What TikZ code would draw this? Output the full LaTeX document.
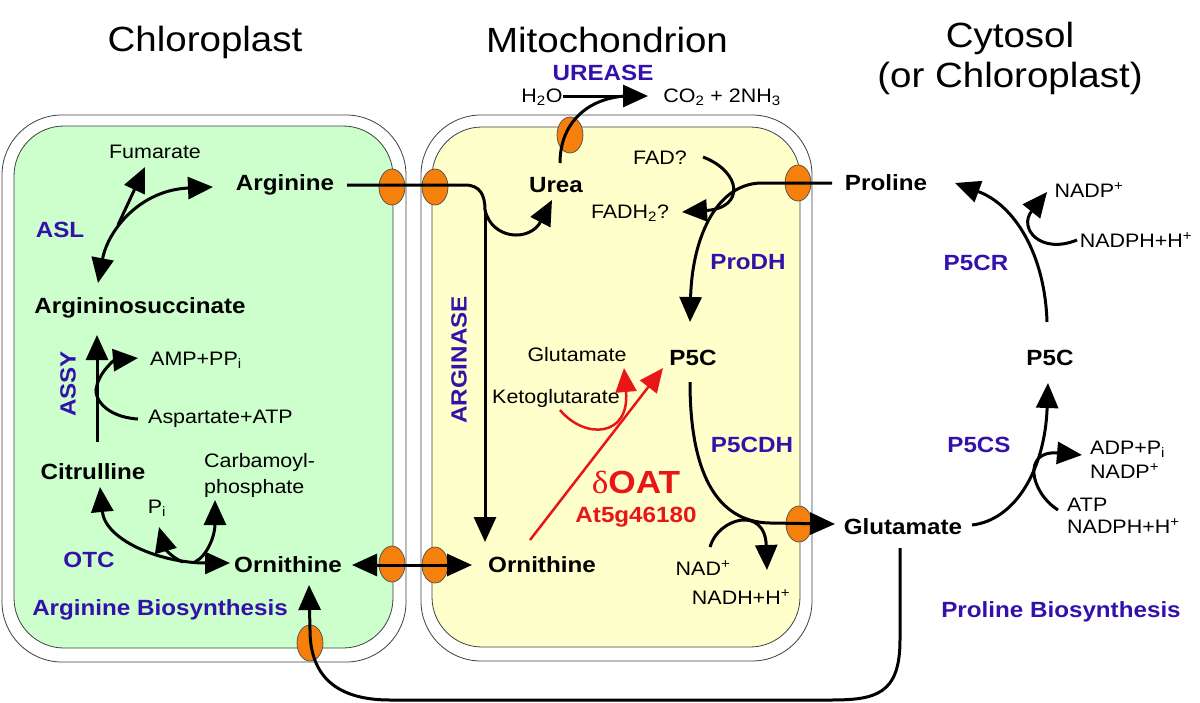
\documentclass[tikz,border=0pt]{standalone}
\usepackage{fontspec}
\setmainfont{Liberation Sans}[FakeStretch=1.1]
\newfontfamily\grk{Liberation Serif}[FakeStretch=1.1]
\usetikzlibrary{arrows.meta,shapes.geometric}
\definecolor{enz}{RGB}{51,17,170}
\definecolor{oatred}{RGB}{232,22,22}
\definecolor{chlgreen}{RGB}{204,255,204}
\definecolor{mityellow}{RGB}{255,255,204}
\definecolor{tport}{RGB}{245,128,12}
\tikzset{
  title/.style={font=\fontsize{35}{40}\selectfont, inner sep=0pt},
  met/.style={font=\fontsize{22}{24}\selectfont\bfseries, inner sep=0pt},
  sm/.style={font=\fontsize{19.5}{22}\selectfont, inner sep=0pt},
  enzyme/.style={font=\fontsize{22}{24}\selectfont\bfseries, text=enz, inner sep=0pt},
  wall/.style={draw=black!75, line width=0.8pt},
  porter/.style={ellipse, draw=black!70, line width=0.7pt, fill=tport, minimum width=26pt, minimum height=36pt, inner sep=0pt},
  ln/.style={line width=3pt},
  rx/.style={line width=3pt, -{Triangle[length=25pt,width=22pt]}},
  rxx/.style={line width=3pt, {Triangle[length=25pt,width=22pt]}-{Triangle[length=25pt,width=22pt]}},
  redrx/.style={line width=2.5pt, draw=oatred, -{Triangle[length=24pt,width=21pt]}},
}
\begin{document}
\begin{tikzpicture}[x=1pt,y=-1pt]
\useasboundingbox (0,0) rectangle (1200,702);
% compartments
\draw[wall, fill=white, rounded corners=60pt] (2,115) rectangle (406,662);
\draw[wall, fill=chlgreen, rounded corners=50pt] (14,126) rectangle (393,648);
\draw[wall, fill=white, rounded corners=60pt] (421,115) rectangle (812,661);
\draw[wall, fill=mityellow, rounded corners=50pt] (432,127) rectangle (800,647);
% titles
\node[title] (tchl) at (205,42) {Chloroplast};
\node[title] (tmit) at (607,40) {Mitochondrion};
\node[title, align=center] (tcyt) at (1010,58) {Cytosol\\(or Chloroplast)};
% transporters
\node[porter] (p1) at (392,187) {};
\node[porter] (p2) at (435,187) {};
\node[porter] (p3) at (570,135) {};
\node[porter] (p4) at (798,183) {};
\node[porter] (p5) at (799,524) {};
\node[porter] (p6) at (392,564) {};
\node[porter] (p7) at (435,565) {};
\node[porter] (p8) at (310,643) {};
% chloroplast texts
\node[sm] (fum) at (155,152) {Fumarate};
\node[met] (arg) at (285,185) {Arginine};
\node[enzyme] (asl) at (60,230) {ASL};
\node[met] (argsuc) at (140,308) {Argininosuccinate};
\node[sm, anchor=west] (amp) at (150,360) {AMP+PP\textsubscript{i}};
\node[sm, anchor=west] (asp) at (148,419) {Aspartate+ATP};
\node[enzyme, rotate=90] (assy) at (68,384) {ASSY};
\node[met] (cit) at (93,472) {Citrulline};
\node[sm, anchor=west, align=left, font=\fontsize{19.5}{26}\selectfont] (carb) at (204,475) {Carbamoyl-\\phosphate};
\node[sm] (pi) at (157,508) {P\textsubscript{i}};
\node[enzyme] (otc) at (89,560) {OTC};
\node[met] (ornc) at (288,565) {Ornithine};
\node[enzyme] (argbio) at (160,610) {Arginine Biosynthesis};
% mitochondrion texts
\node[enzyme] (urease) at (603,73) {UREASE};
\node[sm] (h2o) at (542,97) {H\textsubscript{2}O};
\node[sm] (co2) at (722,97) {CO\textsubscript{2} + 2NH\textsubscript{3}};
\node[met] (urea) at (556,185) {Urea};
\node[sm] (fad) at (660,158) {FAD?};
\node[sm] (fadh) at (630,213) {FADH\textsubscript{2}?};
\node[enzyme] (prodh) at (748,262) {ProDH};
\node[enzyme, rotate=90] (arginase) at (459,360) {ARGINASE};
\node[sm] (glum) at (577,355) {Glutamate};
\node[met] (p5cm) at (693,358) {P5C};
\node[sm] (keto) at (556,398) {Ketoglutarate};
\node[font=\fontsize{32}{34}\selectfont\bfseries, text=oatred, inner sep=0pt] (oat) at (636,482) {{\grk\mdseries δ}OAT};
\node[font=\fontsize{22}{24}\selectfont\bfseries, text=oatred, inner sep=0pt] (atg) at (636,517) {At5g46180};
\node[enzyme] (p5cdh) at (752,445) {P5CDH};
\node[met] (ornm) at (542,565) {Ornithine};
\node[sm] (nad) at (703,568) {NAD\textsuperscript{+}};
\node[sm] (nadh) at (741,597) {NADH+H\textsuperscript{+}};
% cytosol texts
\node[met] (pro) at (886,183) {Proline};
\node[sm] (nadp) at (1089,190) {NADP\textsuperscript{+}};
\node[sm] (nadph) at (1136,240) {NADPH+H\textsuperscript{+}};
\node[enzyme] (p5cr) at (976,263) {P5CR};
\node[met] (p5cc) at (1050,358) {P5C};
\node[enzyme] (p5cs) at (979,445) {P5CS};
\node[sm, anchor=west] (adp) at (1090,449) {ADP+P\textsubscript{i}};
\node[sm, anchor=west] (nadp2) at (1090,471) {NADP\textsuperscript{+}};
\node[sm, anchor=west] (atp) at (1067,505) {ATP};
\node[sm, anchor=west] (nadph2) at (1067,526) {NADPH+H\textsuperscript{+}};
\node[met] (gluc) at (903,527) {Glutamate};
\node[enzyme] (probio) at (1061,612) {Proline Biosynthesis};
% coordinates
\coordinate (aslb) at (118,225);
\coordinate (argtip) at (213,187);
\coordinate (argsuctip) at (98,283);
\coordinate (fumtip) at (145,167);
\coordinate (assy0) at (97,442);
\coordinate (assy1) at (97,335);
\coordinate (asp0) at (138,419);
\coordinate (amptip) at (138,358);
\coordinate (cittip) at (100,487);
\coordinate (ornctip) at (230,563);
\coordinate (pitip) at (159,527);
\coordinate (carbtip) at (215,500);
\coordinate (arg0) at (347,185);
\coordinate (argbend) at (465,185);
\coordinate (argv) at (485,210);
\coordinate (ornmtop) at (485,542);
\coordinate (ureatip) at (552,200);
\coordinate (urea0) at (560,163);
\coordinate (h2o0) at (563,96);
\coordinate (co2tip) at (648,96);
\coordinate (ureamerge) at (625,96);
\coordinate (fad0) at (703,157);
\coordinate (fadhtip) at (682,212);
\coordinate (pro0) at (832,183);
\coordinate (probend) at (760,183);
\coordinate (p5cmtop) at (690,322);
\coordinate (ornm0) at (530,540);
\coordinate (oattip) at (663,368);
\coordinate (keto0) at (560,410);
\coordinate (glumtip) at (624,368);
\coordinate (p5cm0) at (690,382);
\coordinate (p5cdhh) at (770,523);
\coordinate (glucltip) at (835,524);
\coordinate (nad0) at (710,547);
\coordinate (nadhtip) at (767,570);
\coordinate (ornc0) at (352,565);
\coordinate (ornmtip) at (472,565);
\coordinate (p5cc0) at (1047,322);
\coordinate (protip) at (955,183);
\coordinate (nadph0) at (1077,240);
\coordinate (nadptip) at (1047,192);
\coordinate (gluc0) at (972,525);
\coordinate (p5cctip) at (1048,383);
\coordinate (atp0) at (1058,510);
\coordinate (adptip) at (1082,455);
\coordinate (glucb) at (900,548);
\coordinate (orncbot) at (309,585);
% chloroplast reactions
\draw[rxx] (argsuctip) .. controls (108,230) and (140,190) .. (argtip);
\draw[rx] (aslb) -- (fumtip);
\draw[rx] (assy0) -- (assy1);
\draw[rx] (asp0) .. controls (105,417) and (92,397) .. (97,385) .. controls (101,370) and (115,360) .. (amptip);
\draw[rxx] (cittip) .. controls (105,540) and (160,563) .. (ornctip);
\draw[rx] (183,562) .. controls (172,558) and (165,548) .. (pitip);
\draw[rx] (195,562) .. controls (208,555) and (215,535) .. (carbtip);
% arginine import / arginase
\draw[ln] (arg0) -- (argbend) .. controls (480,185) and (485,195) .. (argv);
\draw[rx] (argv) -- (ornmtop);
\draw[rx] (argv) .. controls (492,240) and (530,242) .. (ureatip);
% urease
\draw[rx] (h2o0) -- (co2tip);
\draw[ln] (urea0) .. controls (560,125) and (585,99) .. (ureamerge);
% ProDH
\draw[rx] (fad0) .. controls (742,172) and (745,208) .. (fadhtip);
\draw[rx] (pro0) -- (probend) .. controls (715,185) and (692,240) .. (p5cmtop);
% OAT
\draw[redrx] (ornm0) -- (oattip);
\draw[redrx] (keto0) .. controls (585,440) and (630,437) .. (glumtip);
% P5CDH
\draw[rx] (p5cm0) .. controls (690,470) and (715,522) .. (p5cdhh) -- (glucltip);
\draw[rx] (nad0) .. controls (718,518) and (765,505) .. (nadhtip);
% ornithine exchange
\draw[rxx] (ornc0) -- (ornmtip);
% cytosol
\draw[rx] (p5cc0) .. controls (1045,255) and (1015,205) .. (protip);
\draw[rx] (nadph0) .. controls (1040,255) and (1018,228) .. (nadptip);
\draw[rx] (gluc0) .. controls (1015,520) and (1045,470) .. (p5cctip);
\draw[rx] (atp0) .. controls (1030,492) and (1022,450) .. (adptip);
% glutamate return
\draw[rx] (glucb) -- (900,640) .. controls (900,695) and (875,700) .. (830,700) -- (390,700) .. controls (330,700) and (310,670) .. (310,630) -- (orncbot);
\end{tikzpicture}
\end{document}
